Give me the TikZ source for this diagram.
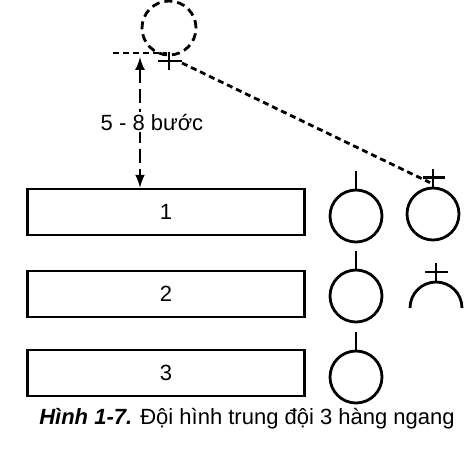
\documentclass[tikz,border=0pt]{standalone}
\usepackage{fontspec}
\setmainfont{Liberation Sans}
\usetikzlibrary{calc}
\usetikzlibrary{shapes,arrows}

\tikzset{
  hang/.style={draw, line width=1.4pt, minimum width=138.5pt, minimum height=23pt, inner sep=0pt, font=\fontsize{11}{13}\selectfont},
  linh/.style={draw, circle, line width=1.4pt, minimum size=26pt, inner sep=0pt},
  bong/.style={draw, circle, line width=1.4pt, minimum size=27pt, inner sep=0pt, dash pattern=on 4pt off 2.5pt},
  net/.style={line width=1.4pt},
  chamgach/.style={line width=1.4pt, dash pattern=on 3pt off 2pt},
  chieu/.style={line width=1.2pt, dash pattern=on 7pt off 3pt, latex-latex},
}

\begin{document}
\begin{tikzpicture}[x=0.5pt,y=-0.5pt]
    \useasboundingbox (0,0) rectangle (476,457);

    \node [hang] (H1) at (166,212) {1};
    \node [hang] (H2) at (166,294) {2};
    \node [hang] (H3) at (166,373) {3};

    \node [linh] (L1) at (356,216) {};
    \node [linh] (L2) at (356,296) {};
    \node [linh] (L3) at (356,377) {};
    \draw [net] (L1.north) -- ++(0,-18);
    \draw [net] (L2.north) -- ++(0,-18);
    \draw [net] (L3.north) -- ++(0,-18);

    \node [linh] (P1) at (433,214) {};
    \draw [net] (P1.north) -- ++(0,-18);
    \draw [net] ($(P1.north)+(-10,-9)$) -- ++(22,0);

    \coordinate (P2) at (436,308);
    \draw [net] ($(P2)+(-26,0)$) coordinate (P2w)
        arc[start angle=180, end angle=0, radius=13pt] coordinate (P2e);
    \coordinate (P2n) at ($(P2)+(0,-26)$);
    \draw [net] (P2n) -- ++(0,-19);
    \draw [net] ($(P2n)+(-11,-10)$) -- ++(23,0);

    \node [bong] (G) at (169,28) {};
    \coordinate (T) at (169,61);
    \draw [net] ($(T)+(0,-9)$) -- ($(T)+(0,9)$);
    \draw [net] ($(T)+(-11,0)$) -- ($(T)+(13,0)$);
    \coordinate (M0) at (113,53);
    \coordinate (M1) at (167,53);
    \draw [chamgach] (M0) -- (M1);

    \draw [chamgach] ($(T)+(13,2)$) -- ($(P1.north)+(-3,-4)$);

    \coordinate (A0) at (140,57);
    \draw [chieu] (A0) -- (A0 |- H1.north);
    \node [fill=white, inner sep=1pt, font=\fontsize{11}{13}\selectfont] (kc) at (152,122) {5 - 8 bước};

    \node [font=\fontsize{11}{13}\selectfont] (cap) at (247,419) {\textbf{\textit{Hình 1-7.}} Đội hình trung đội 3 hàng ngang};
\end{tikzpicture}
\end{document}
